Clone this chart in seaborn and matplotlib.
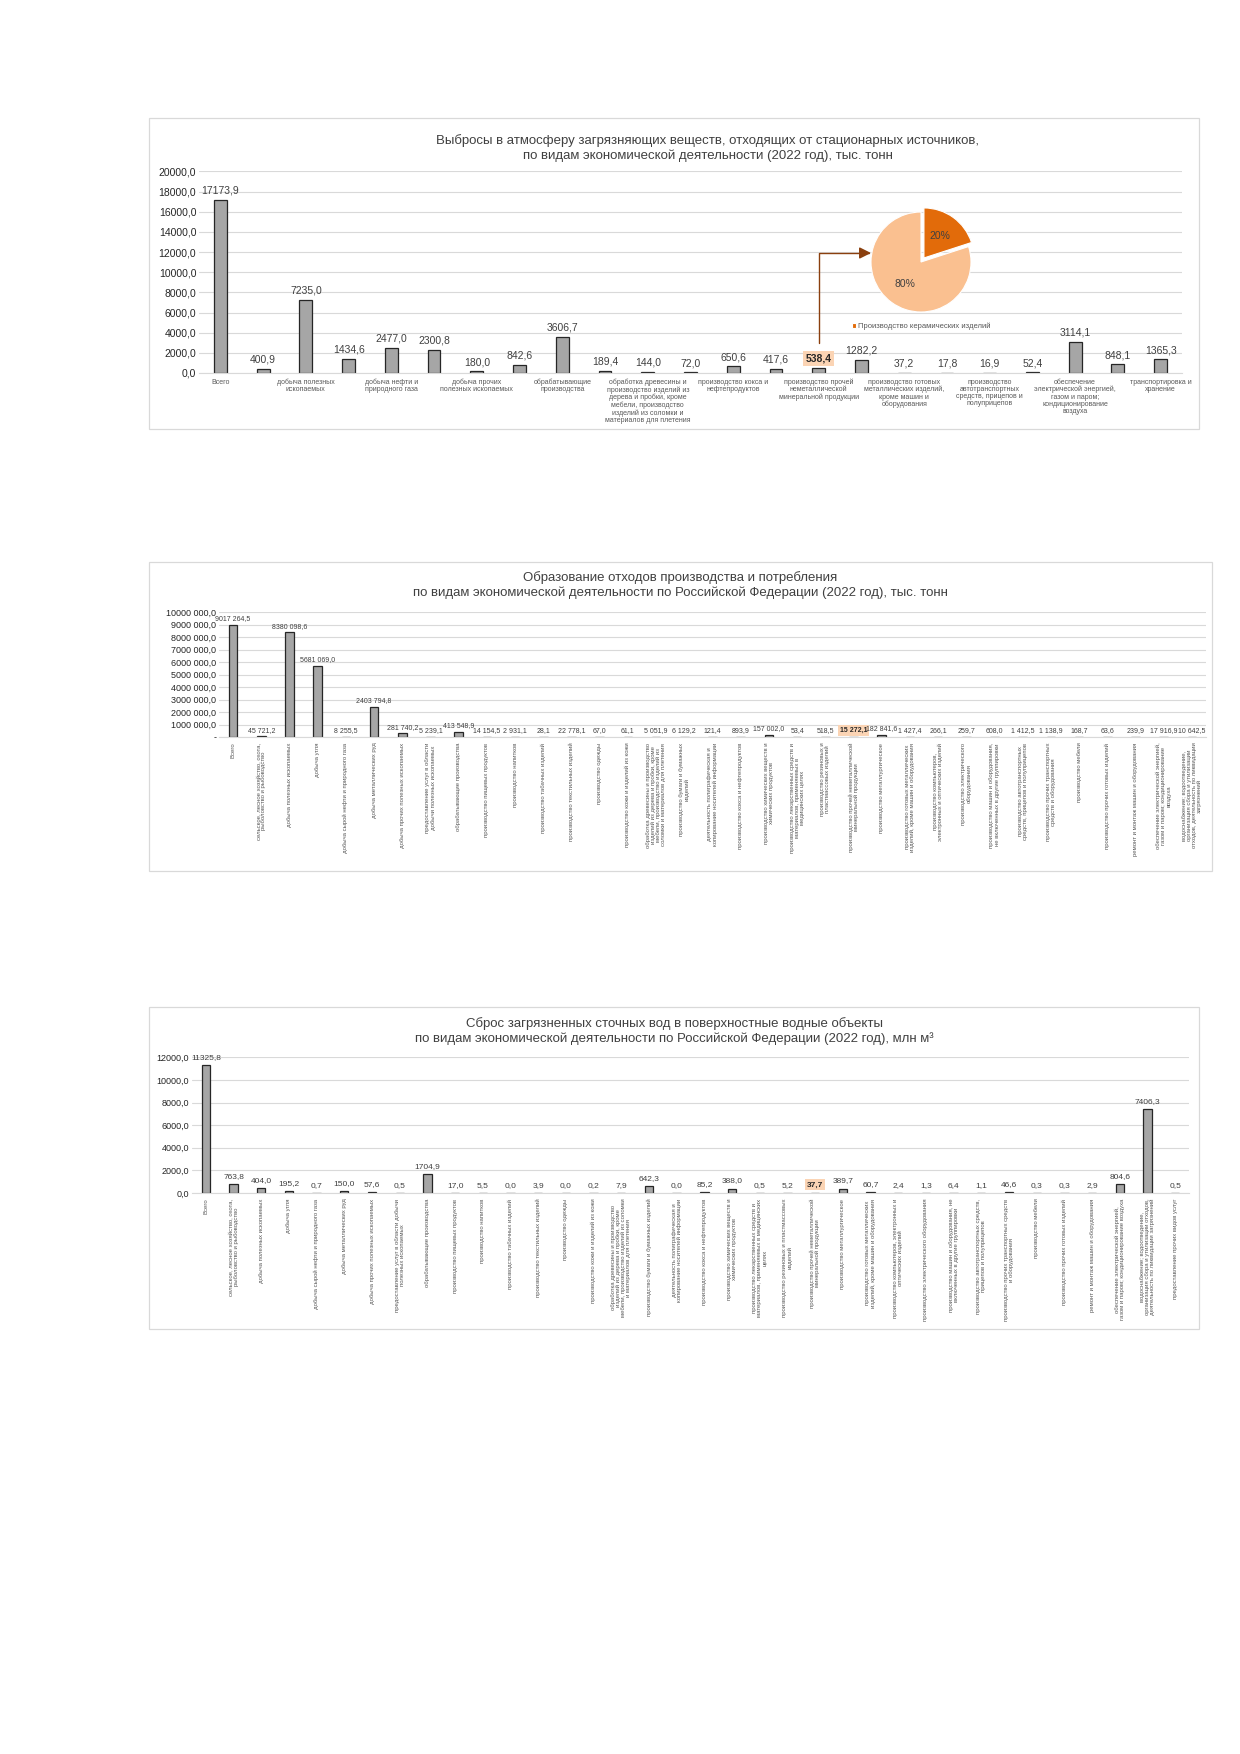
import textwrap
import numpy as np
import pandas as pd
import matplotlib
matplotlib.use("Agg")
import matplotlib.pyplot as plt
import seaborn as sns
from matplotlib.patches import Rectangle
from matplotlib.ticker import FuncFormatter, MultipleLocator

# ---------------- DATA ----------------
air_title = ["Выбросы в атмосферу загрязняющих веществ, отходящих от стационарных источников,",
             "по видам экономической деятельности (2022 год), тыс. тонн"]
air_labels = [
    "Всего", "",
    "добыча полезных\nископаемых", "",
    "добыча нефти и\nприродного газа", "",
    "добыча прочих\nполезных ископаемых", "",
    "обрабатывающие\nпроизводства", "",
    "обработка древесины и\nпроизводство изделий из\nдерева и пробки, кроме\nмебели, производство\nизделий из соломки и\nматериалов для плетения", "",
    "производство кокса и\nнефтепродуктов", "",
    "производство прочей\nнеметаллической\nминеральной продукции", "",
    "производство готовых\nметаллических изделий,\nкроме машин и\nоборудования", "",
    "производство\nавтотранспортных\nсредств, прицепов и\nполуприцепов", "",
    "обеспечение\nэлектрической энергией,\nгазом и паром;\nкондиционирование\nвоздуха", "",
    "транспортировка и\nхранение",
]
air_values = [17173.9, 400.9, 7235.0, 1434.6, 2477.0, 2300.8, 180.0, 842.6, 3606.7,
              189.4, 144.0, 72.0, 650.6, 417.6, 538.4, 1282.2, 37.2, 17.8, 16.9,
              52.4, 3114.1, 848.1, 1365.3]
air_highlight = 14
pie_labels = ["Производство керамических изделий", "прочее"]
pie_values = [20, 80]

waste_title = ["Образование отходов производства и потребления",
               "по видам экономической деятельности по Российской Федерации (2022 год), тыс. тонн"]
waste_labels = [
    "Всего",
    "сельское, лесное хозяйство, охота, рыболовство и рыбоводство",
    "добыча полезных ископаемых",
    "добыча угля",
    "добыча сырой нефти и природного газа",
    "добыча металлических руд",
    "добыча прочих полезных ископаемых",
    "предоставление услуг в области добычи полезных ископаемых",
    "обрабатывающие производства",
    "производство пищевых продуктов",
    "производство напитков",
    "производство табачных изделий",
    "производство текстильных изделий",
    "производство одежды",
    "производство кожи и изделий из кожи",
    "обработка древесины и производство изделий из дерева и пробки, кроме мебели, производство изделий из соломки и материалов для плетения",
    "производство бумаги и бумажных изделий",
    "деятельность полиграфическая и копирование носителей информации",
    "производство кокса и нефтепродуктов",
    "производство химических веществ и химических продуктов",
    "производство лекарственных средств и материалов, применяемых в медицинских целях",
    "производство резиновых и пластмассовых изделий",
    "производство прочей неметаллической минеральной продукции",
    "производство металлургическое",
    "производство готовых металлических изделий, кроме машин и оборудования",
    "производство компьютеров, электронных и оптических изделий",
    "производство электрического оборудования",
    "производство машин и оборудования, не включенных в другие группировки",
    "производство автотранспортных средств, прицепов и полуприцепов",
    "производство прочих транспортных средств и оборудования",
    "производство мебели",
    "производство прочих готовых изделий",
    "ремонт и монтаж машин и оборудования",
    "обеспечение электрической энергией, газом и паром; кондиционирование воздуха",
    "водоснабжение; водоотведение, организация сбора и утилизации отходов, деятельность по ликвидации загрязнений",
]
waste_values = [9017264.5, 45721.2, 8380098.6, 5681069.0, 8255.5, 2403794.8, 281740.2,
                5239.1, 413548.9, 14154.5, 2931.1, 28.1, 22778.1, 67.0, 61.1, 5051.9,
                6129.2, 121.4, 893.9, 157002.0, 53.4, 518.5, 15272.1, 182841.6, 1427.4,
                266.1, 259.7, 608.0, 1412.5, 1138.9, 168.7, 63.6, 239.9, 17916.9, 10642.5]
waste_highlight = 22

water_title = ["Сброс загрязненных сточных вод в поверхностные водные объекты",
               "по видам экономической деятельности по Российской Федерации (2022 год), млн м³"]
water_labels = waste_labels + ["предоставление прочих видов услуг"]
water_values = [11325.8, 763.8, 404.0, 195.2, 0.7, 150.0, 57.6, 0.5, 1704.9, 17.0, 5.5,
                0.0, 3.9, 0.0, 0.2, 7.9, 642.3, 0.0, 85.2, 388.0, 0.5, 5.2, 37.7, 389.7,
                60.7, 2.4, 1.3, 6.4, 1.1, 46.6, 0.3, 0.3, 2.9, 804.6, 7406.3, 0.5]
water_highlight = 22

# ---------------- STYLE ----------------
sns.set_style("white")
plt.rcParams["font.family"] = ["Liberation Sans", "DejaVu Sans"]

W, H = 1240, 1754
fig = plt.figure(figsize=(W / 100, H / 100), dpi=100)
fig.patch.set_facecolor("white")

BAR = "#a6a6a6"
EDGE = "#262626"
GRID = "#d9d9d9"
TXT = "#404040"
LBL = "#595959"
PEACH = "#fbd4b4"


def px_axes(l, t, r, b):
    return fig.add_axes([l / W, 1 - b / H, (r - l) / W, (b - t) / H])


def box(l, t, r, b):
    fig.add_artist(Rectangle((l / W, 1 - b / H), (r - l) / W, (b - t) / H,
                             transform=fig.transFigure, fill=False, ec=GRID, lw=0.9))


def title(lines, cx, y1, y2, size=9.5):
    fig.text(cx / W, 1 - y1 / H, lines[0], ha="center", va="center", fontsize=size, color=TXT)
    fig.text(cx / W, 1 - y2 / H, lines[1], ha="center", va="center", fontsize=size, color=TXT)


def dec(v):
    return f"{v:.1f}".replace(".", ",")


def spaced(v):
    s = f"{v:.1f}"
    ip, dp = s.split(".")
    ip = int(ip)
    if ip >= 1000:
        return f"{ip // 1000} {ip % 1000:03d},{dp}"
    return f"{ip},{dp}"


def bars(ax, values, ymax, step, tickfmt, lblfmt, lblsize, hl, pad):
    df = pd.DataFrame({"pos": np.arange(len(values)), "value": values})
    sns.barplot(data=df, x="pos", y="value", ax=ax, color=BAR, saturation=1,
                width=0.3, edgecolor=EDGE, linewidth=0.9)
    ax.set_ylim(0, ymax * 1.002)
    ax.yaxis.set_major_locator(MultipleLocator(step))
    ax.yaxis.set_major_formatter(FuncFormatter(tickfmt))
    ax.grid(axis="y", color=GRID, lw=0.8)
    ax.set_axisbelow(True)
    for s in ["top", "right", "left"]:
        ax.spines[s].set_visible(False)
    ax.spines["bottom"].set_color(GRID)
    ax.spines["bottom"].set_linewidth(0.8)
    ax.tick_params(length=0, pad=2)
    ax.set_xlabel("")
    ax.set_ylabel("")
    texts = ax.bar_label(ax.containers[0], labels=[lblfmt(v) for v in values],
                         fontsize=lblsize, color=TXT, padding=pad)
    t = texts[hl]
    t.set_fontweight("bold")
    t.set_color("#262626")
    t.set_bbox(dict(boxstyle="square,pad=0.25", fc=PEACH, ec="none"))
    return texts


# ---------------- CHART 1 ----------------
box(149, 118, 1199, 429)
title(air_title, 708, 141, 156)
ax1 = px_axes(199, 171, 1182, 373)
bars(ax1, air_values, 20000, 2000, lambda v, p: dec(v), dec, 7.5, air_highlight, 3)
ax1.set_xticks(range(len(air_labels)))
ax1.set_xticklabels(air_labels, fontsize=5, color=LBL, ha="center", va="top",
                    linespacing=1.05)
ax1.tick_params(axis="y", labelsize=7.5, labelcolor="#262626")
ax1.tick_params(axis="x", pad=4)

# pie inset
axp = px_axes(861, 202, 981, 322)
wedges, _, autot = axp.pie(pie_values, colors=["#e26b0a", "#fac090"], startangle=90,
                           counterclock=False, explode=[0.1, 0], autopct="%d%%",
                           pctdistance=0.55, radius=1,
                           wedgeprops=dict(edgecolor="white", linewidth=0.8),
                           textprops=dict(fontsize=7.5, color="#404040"))
axp.set_xlim(-1.2, 1.2)
axp.set_ylim(-1.2, 1.2)
axp.set_aspect("equal")
axp.axis("off")
axp.legend(handles=[wedges[0]], labels=[pie_labels[0]], loc="upper center",
           bbox_to_anchor=(0.5, 0.02), frameon=False, fontsize=5.5,
           handlelength=0.5, handleheight=0.5, handletextpad=0.3, borderaxespad=0,
           labelcolor=LBL)

ax1.annotate("", xy=(-1.0, 0.18), xycoords=axp.transData,
             xytext=(air_highlight, 2950), textcoords="data",
             arrowprops=dict(arrowstyle="-|>,head_length=0.7,head_width=0.35",
                             color="#8a3f0e", lw=1.0, shrinkA=0, shrinkB=0,
                             connectionstyle="angle,angleA=90,angleB=0,rad=0"),
             annotation_clip=False)

# ---------------- CHART 2 ----------------
box(149, 562, 1212, 871)
title(waste_title, 680, 578, 593)
ax2 = px_axes(219, 612, 1206, 737)
bars(ax2, waste_values, 10000000, 1000000,
     lambda v, p: "-" if v == 0 else spaced(v), spaced, 5, waste_highlight, 2)
ax2.set_xticks(range(len(waste_labels)))
ax2.set_xticklabels([textwrap.fill(s, 36) for s in waste_labels], fontsize=4.3,
                    color=LBL, rotation=90, ha="center", va="top",
                    multialignment="center", linespacing=1.0)
ax2.tick_params(axis="y", labelsize=6.5, labelcolor="#262626")
ax2.tick_params(axis="x", pad=4)

# ---------------- CHART 3 ----------------
box(149, 1007, 1199, 1329)
title(water_title, 674, 1024, 1039)
ax3 = px_axes(192, 1057, 1189, 1193)
bars(ax3, water_values, 12000, 2000, lambda v, p: dec(v), dec, 6, water_highlight, 3)
ax3.set_xticks(range(len(water_labels)))
ax3.set_xticklabels([textwrap.fill(s, 40) for s in water_labels], fontsize=4.3,
                    color=LBL, rotation=90, ha="center", va="top",
                    multialignment="center", linespacing=1.0)
ax3.tick_params(axis="y", labelsize=6.5, labelcolor="#262626")
ax3.tick_params(axis="x", pad=4)

fig.savefig("out.png", dpi=100, facecolor="white")
